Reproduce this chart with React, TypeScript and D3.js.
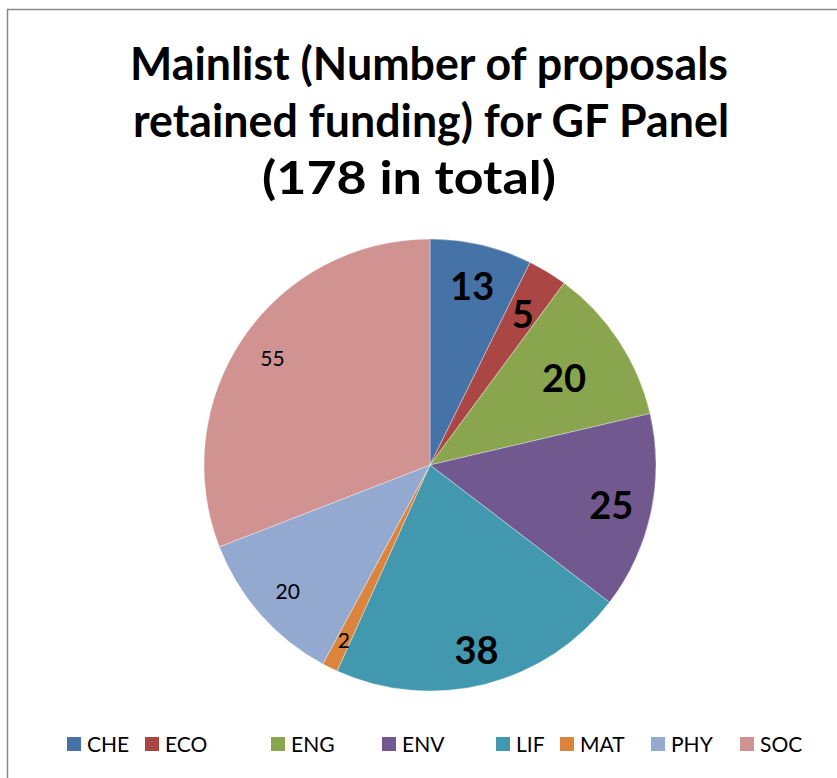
import React from "react";
import * as d3 from "d3";

const categories = ["CHE", "ECO", "ENG", "ENV", "LIF", "MAT", "PHY", "SOC"];
const values = [13, 5, 20, 25, 38, 2, 20, 55];
const colors = ["#4572A7", "#AA4643", "#89A54E", "#71588F", "#4198AF", "#DB843D", "#93A9CF", "#D19392"];
const titleLines = ["Mainlist (Number of proposals", "retained funding) for GF Panel", "(178 in total)"];

// layout
const W = 837;
const H = 778;
const cx = 430;
const cy = 465;
const R = 226;
const labelRadiusFactor = [0.82, 0.79, 0.71, 0.82, 0.84, 0.86, 0.84, 0.845];
const boldLabel = [true, true, true, true, true, false, false, false];
const legendX = [67, 145, 271, 382, 496, 560, 651, 740];
const FONT = "Lato, 'Open Sans', 'DejaVu Sans', sans-serif";

export default function App() {
  const pie = d3
    .pie<number>()
    .sort(null)
    .value((d) => d)
    .startAngle(0)
    .endAngle(2 * Math.PI);
  const arcs = pie(values);
  const arcGen = d3.arc<d3.PieArcDatum<number>>().innerRadius(0).outerRadius(R);

  const titleWidths = [598, 596, 294];
  const titleCx = [429, 431, 409];
  const titleBase = [80, 137, 194];

  return (
    <svg
      width={W}
      height={H}
      style={{ position: "absolute", left: 0, top: 0, background: "#fff" }}
      fontFamily={FONT}
    >
      <rect x={0} y={0} width={W} height={H} fill="#fff" />
      <rect x={7.5} y={9.5} width={W + 20} height={H + 20} fill="none" stroke="#8a8a8a" strokeWidth={1.5} />
      {titleLines.map((t, i) => (
        <text
          key={i}
          x={titleCx[i]}
          y={titleBase[i]}
          textAnchor="middle"
          fontSize={45}
          fontWeight="bold"
          textLength={titleWidths[i]}
          lengthAdjust="spacingAndGlyphs"
          fill="#000"
        >
          {t}
        </text>
      ))}
      <g transform={`translate(${cx},${cy})`}>
        {arcs.map((a, i) => (
          <path key={categories[i]} d={arcGen(a) || ""} fill={colors[i]} stroke="#ffffff" strokeWidth={0.6} strokeOpacity={0.6} />
        ))}
        {arcs.map((a, i) => {
          const mid = (a.startAngle + a.endAngle) / 2;
          const r = R * labelRadiusFactor[i];
          const x = Math.sin(mid) * r;
          const y = -Math.cos(mid) * r;
          return (
            <text
              key={"l" + categories[i]}
              x={x}
              y={y}
              textAnchor="middle"
              dominantBaseline="central"
              fontSize={boldLabel[i] ? 38 : 21}
              fontWeight={boldLabel[i] ? "bold" : "normal"}
              fill="#000"
            >
              {values[i]}
            </text>
          );
        })}
      </g>
      {categories.map((c, i) => (
        <g key={"lg" + c}>
          <rect x={legendX[i]} y={737} width={14} height={14} fill={colors[i]} />
          <text x={legendX[i] + 20} y={752} fontSize={21} fill="#000">
            {c}
          </text>
        </g>
      ))}
    </svg>
  );
}
